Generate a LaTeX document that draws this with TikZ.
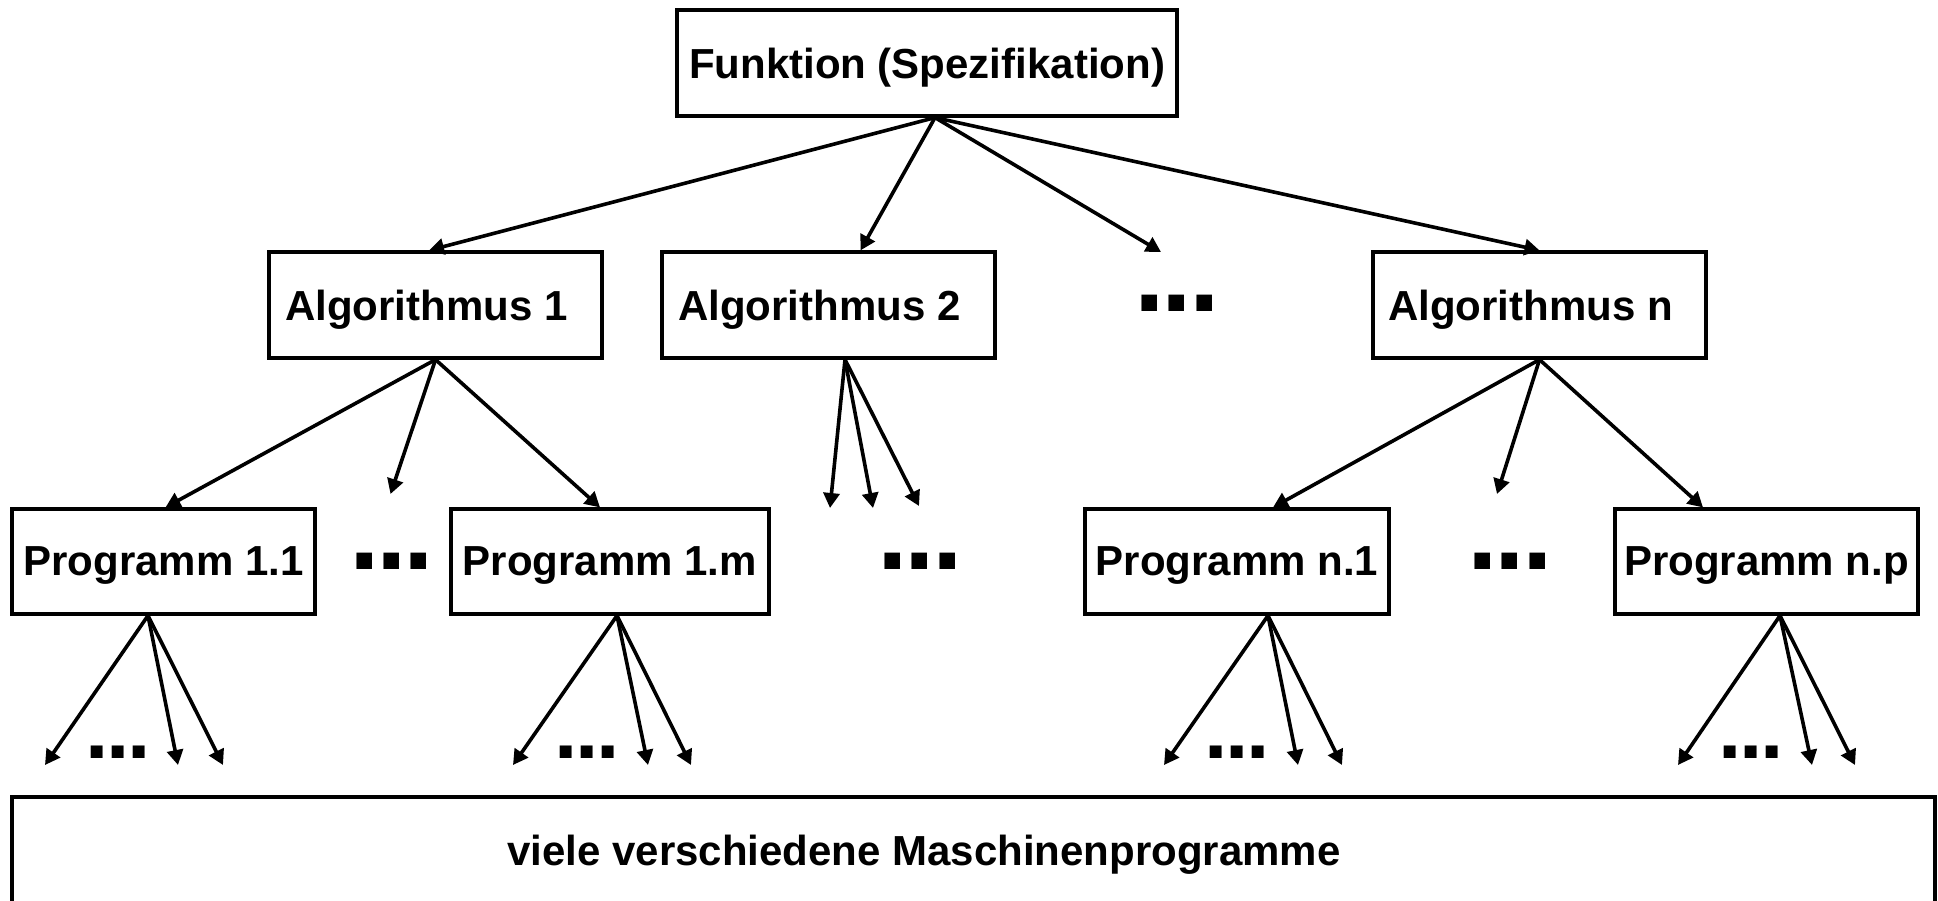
\documentclass[tikz,border=0pt]{standalone}
\usepackage{fontspec}
\setmainfont{Liberation Sans}
\usetikzlibrary{arrows.meta}
\newcommand\boxfont{\fontsize{21pt}{25pt}\selectfont\bfseries}
\newcommand\bigdotfont{\fontsize{55pt}{60pt}\selectfont\bfseries}
\newcommand\smalldotfont{\fontsize{42pt}{46pt}\selectfont\bfseries}
\tikzset{
  box/.style={draw, line width=1.6pt, rectangle, inner sep=0pt, font=\boxfont, text depth=0pt, minimum height=53pt},
  arr/.style={line width=1.8pt, -{Triangle[length=7.5pt,width=8pt]}},
  bigdots/.style={inner sep=0pt, font=\bigdotfont},
  smalldots/.style={inner sep=0pt, font=\smalldotfont},
}
\begin{document}
\begin{tikzpicture}[x=0.5pt,y=-0.5pt]
\useasboundingbox (0,0) rectangle (1938,900);
\clip (0,0) rectangle (1938,900);
% level 0
\node[box, minimum width=250pt] (top) at (927,63) {Funktion (Spezifikation)};
% level 1
\node[box, minimum width=166.5pt] (alg1) at (435.5,305) {Algorithmus 1\hspace*{9pt}};
\node[box, minimum width=166.5pt] (alg2) at (828.5,305) {Algorithmus 2\hspace*{9pt}};
\node[bigdots] (d2) at (1177,303) {.\kern-1.7pt.\kern-1.7pt.};
\node[box, minimum width=166.5pt] (algn) at (1539.5,305) {Algorithmus n\hspace*{9pt}};
% level 2
\node[box, minimum width=151.5pt, minimum height=52.5pt] (p11) at (163.5,561.5) {Programm 1.1};
\node[bigdots] (d31) at (391.5,561) {.\kern-1.7pt.\kern-1.7pt.};
\node[box, minimum width=159pt, minimum height=52.5pt] (p1m) at (610,561.5) {Programm 1.m};
\node[bigdots] (d32) at (920,561) {.\kern-1.7pt.\kern-1.7pt.};
\node[box, minimum width=152pt, minimum height=52.5pt] (pn1) at (1237,561.5) {Programm n.1};
\node[bigdots] (d33) at (1510,561) {.\kern-1.7pt.\kern-1.7pt.};
\node[box, minimum width=151.5pt, minimum height=52.5pt] (pnp) at (1766.5,561.5) {Programm n.p};
% level 3 dots
\node[smalldots] (s1) at (118.3,752) {.\kern-1.25pt.\kern-1.25pt.};
\node[smalldots] (s2) at (587,752) {.\kern-1.25pt.\kern-1.25pt.};
\node[smalldots] (s3) at (1237,752) {.\kern-1.25pt.\kern-1.25pt.};
\node[smalldots] (s4) at (1751,752) {.\kern-1.25pt.\kern-1.25pt.};
% bottom box
\node[box, minimum width=961.5pt] (mach) at (973.5,850) {};
\node[inner sep=0pt, font=\boxfont, text depth=0pt] (machtext) at (924,850) {viele verschiedene Maschinenprogramme};
% free ends
\coordinate (f1) at (1161,252);
\coordinate (f2) at (390.5,494);
\coordinate (f3a) at (830,508);
\coordinate (f3b) at (873,508);
\coordinate (f3c) at (919,506);
\coordinate (f4) at (1497,494);
\coordinate (a1) at (45,765);
\coordinate (a2) at (178,765);
\coordinate (a3) at (223,765);
\coordinate (b1) at (513,765);
\coordinate (b2) at (648,765);
\coordinate (b3) at (691,765);
\coordinate (c1) at (1164,765);
\coordinate (c2) at (1298,765);
\coordinate (c3) at (1342,765);
\coordinate (e1) at (1678,765);
\coordinate (e2) at (1812,765);
\coordinate (e3) at (1855,765);
% arrows level 0 -> 1
\draw[arr] ([xshift=4pt]top.south) -- ([xshift=-3.25pt]alg1.north);
\draw[arr] ([xshift=4pt]top.south) -- ([xshift=16pt]alg2.north);
\draw[arr] ([xshift=4pt]top.south) -- (f1);
\draw[arr] ([xshift=4pt]top.south) -- (algn.north);
% arrows level 1 -> 2
\draw[arr] (alg1.south) -- ([xshift=1pt]p11.north);
\draw[arr] (alg1.south) -- (f2);
\draw[arr] (alg1.south) -- ([xshift=-5pt]p1m.north);
\draw[arr] ([xshift=8.25pt]alg2.south) -- (f3a);
\draw[arr] ([xshift=8.25pt]alg2.south) -- (f3b);
\draw[arr] ([xshift=8.25pt]alg2.south) -- (f3c);
\draw[arr] (algn.south) -- ([xshift=18pt]pn1.north);
\draw[arr] (algn.south) -- (f4);
\draw[arr] (algn.south) -- ([xshift=-31.75pt]pnp.north);
% arrows level 2 -> 3
\foreach \t in {a1,a2,a3} \draw[arr] ([xshift=-7.75pt]p11.south) -- (\t);
\foreach \t in {b1,b2,b3} \draw[arr] ([xshift=3.5pt]p1m.south) -- (\t);
\foreach \t in {c1,c2,c3} \draw[arr] ([xshift=15.5pt]pn1.south) -- (\t);
\foreach \t in {e1,e2,e3} \draw[arr] ([xshift=6.75pt]pnp.south) -- (\t);
\end{tikzpicture}
\end{document}
